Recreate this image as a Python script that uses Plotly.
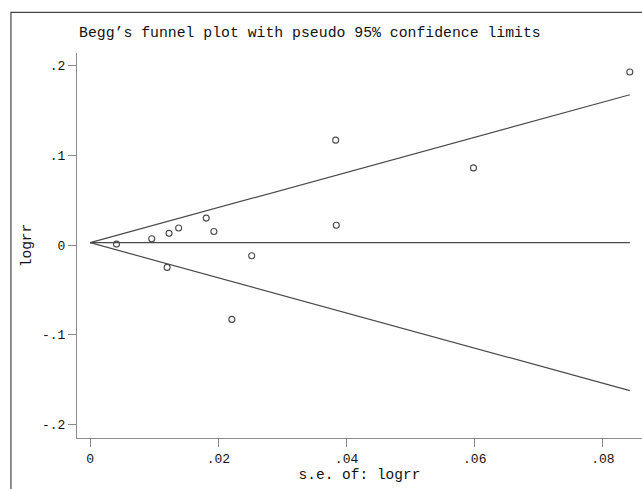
import plotly.graph_objects as go

# Study data
se_logrr = [0.0041, 0.0096, 0.0120, 0.0123, 0.0138, 0.0181, 0.0193, 0.0221, 0.0252,
            0.0383, 0.0384, 0.0598, 0.0842]
logrr = [0.001, 0.007, -0.025, 0.013, 0.019, 0.030, 0.015, -0.083, -0.012,
         0.117, 0.022, 0.086, 0.193]

pooled = 0.0026      # pooled estimate (centre line)
z95 = 1.96           # pseudo 95% limits

x_ticks = [0, 0.02, 0.04, 0.06, 0.08]
x_ticktext = ["0", ".02", ".04", ".06", ".08"]
y_ticks = [-0.2, -0.1, 0, 0.1, 0.2]
y_ticktext = ["-.2", "-.1", "0", ".1", ".2"]

title_text = "Begg\u2019s funnel plot with pseudo 95% confidence limits"
x_title = "s.e. of: logrr"
y_title = "logrr"

se_line = [0, max(se_logrr)]
upper = [pooled + z95 * s for s in se_line]
lower = [pooled - z95 * s for s in se_line]
centre = [pooled for s in se_line]

font = "Liberation Mono, Courier New, monospace"
line_col = "#4a4a4a"
axis_col = "#8a8a8a"
text_col = "#111"

fig = go.Figure()
for ys in (upper, centre, lower):
    fig.add_trace(go.Scatter(x=se_line, y=ys, mode="lines",
                             line=dict(color=line_col, width=1.2),
                             hoverinfo="skip", showlegend=False))
fig.add_trace(go.Scatter(x=se_logrr, y=logrr, mode="markers",
                         marker=dict(symbol="circle-open", size=6,
                                     color=line_col, line=dict(width=1.1)),
                         showlegend=False))

fig.update_layout(
    width=642, height=489,
    margin=dict(l=77, r=0, t=53, b=51),
    paper_bgcolor="white", plot_bgcolor="white",
    font=dict(family=font, size=13, color=text_col),
    xaxis=dict(range=[-0.00206, 0.0861], tickvals=x_ticks, ticktext=x_ticktext,
               showgrid=False, zeroline=False, showline=True, linecolor=axis_col,
               linewidth=1.2, ticks="outside", ticklen=8, tickcolor=axis_col,
               tickfont=dict(family=font, size=13, color=text_col),
               title=dict(text=x_title, standoff=2,
                          font=dict(family=font, size=14.5, color=text_col))),
    yaxis=dict(range=[-0.2153, 0.2142], tickvals=y_ticks, ticktext=y_ticktext,
               showgrid=False, zeroline=False, showline=True, linecolor=axis_col,
               linewidth=1.2, ticks="outside", ticklen=8, tickcolor=axis_col,
               tickfont=dict(family=font, size=13, color=text_col),
               title=dict(text=y_title, standoff=6,
                          font=dict(family=font, size=14.5, color=text_col))),
    annotations=[dict(text=title_text, xref="paper", yref="paper",
                      x=0.0, y=1.052, xanchor="left", yanchor="middle",
                      showarrow=False,
                      font=dict(family=font, size=14.8, color=text_col))],
    shapes=[dict(type="rect", xref="paper", yref="paper",
                 x0=-0.1169, y0=-0.5, x1=1.5, y1=1.1057,
                 line=dict(color="#444", width=1.2), layer="below")],
)

fig.write_html("out.html",
               config={"displayModeBar": False},
               post_script="document.body.style.margin='0';"
                           "document.body.style.overflow='hidden';")
